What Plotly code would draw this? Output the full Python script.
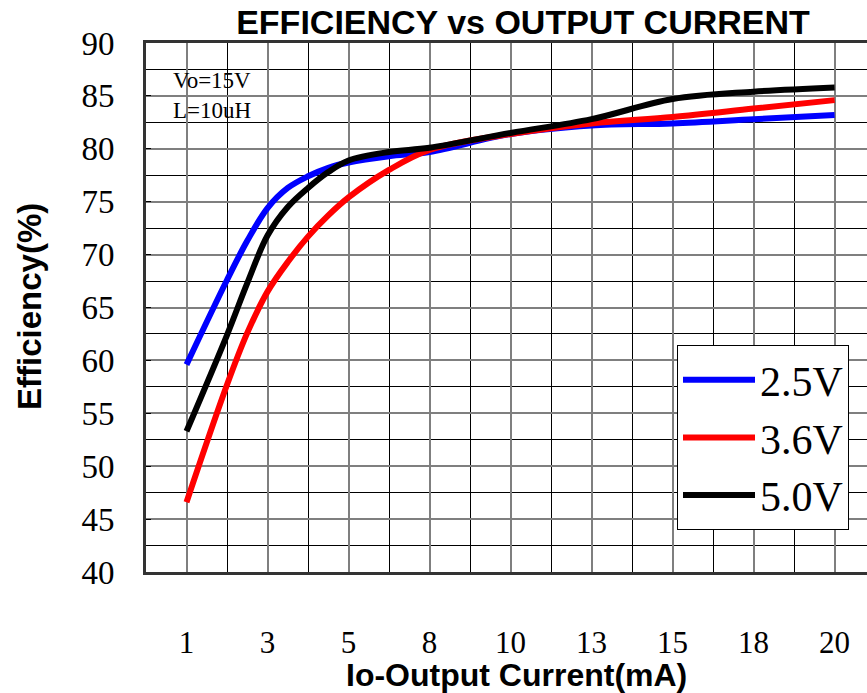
import numpy as np
import plotly.graph_objects as go

# Axis categories (equally spaced on the chart)
tick_currents = [1, 3, 5, 8, 10, 13, 15, 18, 20]
tick_labels = ["1", "3", "5", "8", "10", "13", "15", "18", "20"]

# Sampled output currents (mA)
currents = [1, 2, 2.5, 3, 3.5, 4, 4.5, 5, 6.5, 8, 10, 13, 15, 18, 20]

# Efficiency (%)
eff_25v = [59.6, 67.6, 71.3, 74.4, 76.3, 77.4, 78.2, 78.7, 79.3, 79.7, 81.4, 82.2, 82.4, 82.8, 83.2]
eff_36v = [46.6, 57.7, 62.6, 66.5, 69.3, 71.7, 73.7, 75.4, 78.0, 79.9, 81.4, 82.4, 83.0, 83.8, 84.6]
eff_50v = [53.3, 62.4, 67.3, 71.8, 74.5, 76.3, 77.8, 78.9, 79.7, 80.1, 81.5, 82.8, 84.7, 85.4, 85.8]

series = [
    ("2.5V", eff_25v, "#0000ff"),
    ("3.6V", eff_36v, "#ff0000"),
    ("5.0V", eff_50v, "#000000"),
]

# position on the (non-uniform) category axis
xpos = np.interp(currents, tick_currents, np.arange(len(tick_currents)))

fig = go.Figure()
for name, vals, col in series:
    fig.add_trace(go.Scatter(
        x=xpos, y=vals, name=name, mode="lines",
        line=dict(color=col, width=6, shape="spline", smoothing=1.0),
    ))

serif = "Liberation Serif, Times New Roman, serif"
sans = "Liberation Sans, Arial, sans-serif"

L, T, B, W, H = 146, 43, 121, 867, 693
PW, PH = W - L, H - T - B


def px(x):
    return (x - L) / PW


def py(y):
    return (H - B - y) / PH


fig.update_layout(
    width=W, height=H,
    margin=dict(l=L, r=0, t=T, b=B),
    paper_bgcolor="white", plot_bgcolor="white",
    title=dict(text="<b>EFFICIENCY vs OUTPUT CURRENT</b>", x=523 / W, xanchor="center",
               y=1 - 22 / H, yanchor="middle", xref="container", yref="container",
               font=dict(family=sans, size=34, color="black")),
    showlegend=True,
    legend=dict(x=px(677), y=py(345), xanchor="left", yanchor="top",
                bgcolor="white", bordercolor="black", borderwidth=1,
                font=dict(family=serif, size=42, color="black"),
                itemwidth=72, tracegroupgap=0),
    xaxis=dict(
        range=[-0.5, 8.4], tickmode="array", tickvals=list(range(len(tick_labels))),
        ticktext=tick_labels, showgrid=True, gridcolor="#7f7f7f", gridwidth=1.5,
        minor=dict(tick0=0, dtick=0.5, showgrid=True, gridcolor="#000000", gridwidth=1),
        showline=True, linecolor="#333333", linewidth=3, mirror=True,
        ticks="", ticklabelstandoff=41, zeroline=False, automargin=False,
        tickfont=dict(family=serif, size=31, color="black"),
    ),
    yaxis=dict(
        range=[40, 90], tickmode="linear", tick0=40, dtick=5,
        showgrid=True, gridcolor="#7f7f7f", gridwidth=1.5,
        minor=dict(tick0=40, dtick=2.5, showgrid=True, gridcolor="#000000", gridwidth=1,
                   ticks="inside", ticklen=5, tickcolor="black"),
        ticks="inside", ticklen=5, tickcolor="black",
        showline=True, linecolor="#333333", linewidth=3, mirror=False,
        ticklabelstandoff=22, zeroline=False, automargin=False,
        tickfont=dict(family=serif, size=33, color="black"),
    ),
    shapes=[
        dict(type="rect", xref="paper", yref="paper", layer="between",
             x0=px(149), x1=px(278), y0=py(127), y1=py(53),
             fillcolor="white", line=dict(width=0)),
    ],
    annotations=[
        dict(text="Vo=15V<br>L=10uH", xref="paper", yref="paper",
             x=px(171), y=py(96), xanchor="left", yanchor="middle",
             showarrow=False, align="left",
             font=dict(family=serif, size=23, color="black")),
        dict(text="<b>Io-Output Current(mA)</b>", xref="paper", yref="paper",
             x=px(516), y=py(675), xanchor="center", yanchor="middle",
             showarrow=False, font=dict(family=sans, size=32, color="black")),
        dict(text="<b>Efficiency(%)</b>", xref="paper", yref="paper",
             x=px(29), y=py(306), xanchor="center", yanchor="middle",
             textangle=-90, showarrow=False, font=dict(family=sans, size=33, color="black")),
    ],
)

fig.write_html(
    "out.html",
    config={"displayModeBar": False},
    post_script="document.body.style.margin='0';document.body.style.padding='0';",
)
